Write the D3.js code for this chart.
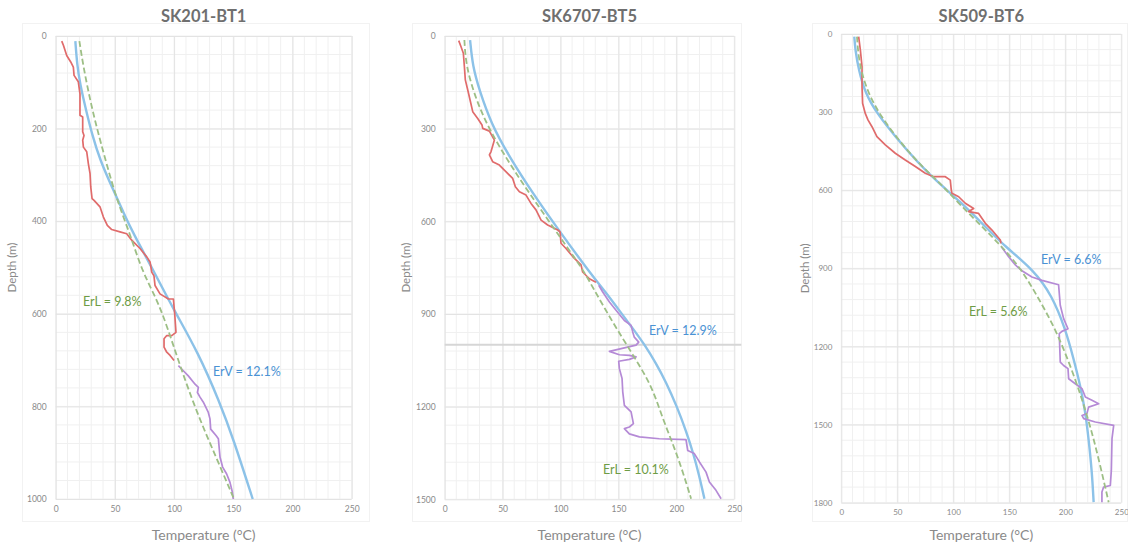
<!DOCTYPE html>
<html>
<head>
<meta charset="utf-8">
<script src="https://cdn.jsdelivr.net/npm/d3@7"></script>
<style>
  body { margin: 0; background: #fff; }
  svg { display: block; font-family: Lato, "Open Sans", sans-serif; }
</style>
</head>
<body>
<div id="chart"></div>
<script>
// temperature (°C), depth (m) pairs
const bt1Measured = [[5.1,11],[6.5,20],[9.3,42],[12.7,56],[14.9,67],[15.5,85],[19.1,99],[20.5,125],[20.5,171],[22.8,175],[22.8,207],[23.9,215],[22.8,225],[23.4,240],[26.2,250],[27.6,276],[29,297],[29.6,326],[30.7,351],[32.4,355],[37.4,369],[40.3,391],[43.6,409],[47.3,418],[54.3,423],[60,427],[64.2,441],[71.2,459],[76.9,477],[79.7,488],[81.1,510],[83,518],[83.9,539],[88.1,557],[95.2,568],[99.4,568],[100.5,600],[101.6,640],[98,647],[93.8,647],[91.5,654],[91.5,672],[93.8,683],[96.6,690],[100,701]];
const bt1Deep = [[103.6,712],[107.8,723],[112,734],[117.7,752],[120.5,759],[119.7,770],[121.9,780],[124.7,791],[128.9,813],[130.3,827],[130.9,849],[135.4,863],[137.4,870],[138.8,910],[141,931],[144.4,946],[147.2,964],[149.2,985],[150,1000]];
const bt1ModelV = [[16.6,11],[18,60],[20.5,103],[25.6,160],[31,215],[37.4,268],[48.7,333],[57,380],[65.6,427],[81,499],[99.4,590],[120.2,683],[138.5,791],[150,870],[166.4,1000]];
const bt1ModelL = [[20,11],[23.4,67],[30,150],[37.4,225],[51.5,355],[62.8,427],[72.6,506],[85.3,568],[93.8,625],[105,712],[119.1,813],[136,913],[150.6,1000]];

const bt5Measured = [[12.1,15],[14.1,35],[16.1,56],[17,99],[17.8,142],[19.9,175],[21.9,207],[24.2,245],[28.5,267],[32.2,288],[32.8,299],[38.6,308],[42.9,337],[40,374],[38.6,385],[41.4,407],[47.2,418],[51.5,434],[58.7,461],[61,488],[64.5,504],[70.2,515],[74.5,542],[78.8,563],[83.2,596],[88.9,612],[97.6,628],[99.6,634],[100.4,671],[104.7,688],[110.5,714],[117.7,741],[119.1,764],[124.9,786],[130.6,797]];
const bt5Deep = [[133,807],[136.4,829],[142.2,861],[147.9,888],[155.1,921],[160.9,937],[162.3,958],[163.7,975],[167.5,991],[165.2,1001],[142.2,1021],[150.8,1032],[159.4,1034],[165.2,1039],[159.4,1047],[150.2,1053],[150.8,1077],[153.1,1109],[153.7,1152],[155.1,1196],[160.9,1217],[162.9,1255],[159.4,1266],[155.1,1271],[159.4,1288],[168.1,1298],[185.3,1304],[208.3,1307],[209.8,1342],[215.5,1352],[219.9,1379],[225.6,1412],[228.5,1444],[234.2,1471],[238.6,1498]];
const bt5ModelV = [[21.9,13],[24.2,99],[29.9,175],[40,283],[55.8,391],[76,509],[100.4,639],[124.9,764],[139,830],[151,890],[163,950],[172.5,999],[182.5,1060],[191,1120],[200.5,1200],[208.5,1280],[214.5,1350],[219.5,1420],[224.2,1498]];
const bt5ModelL = [[17,13],[18.4,99],[27.1,207],[38.6,304],[55.8,412],[73.1,509],[93.2,617],[113.4,725],[120.6,764],[136.4,872],[153.7,980],[168.1,1066],[179.6,1142],[188.2,1239],[197.5,1325],[205.5,1410],[212.7,1498]];

const bt6Measured = [[15.5,10],[17,61],[18.5,125],[18.5,202],[19,266],[21.4,305],[23.8,330],[27.4,356],[31.8,394],[39.3,426],[48.2,458],[57.1,484],[66.1,509],[75,535],[82.4,548],[92.9,548],[97.3,561],[98.2,599],[98.8,612],[104.8,625],[110.7,650],[118.2,670],[113.7,682],[122.6,689],[128.6,727],[134.5,753],[142,791],[142.5,804]];
const bt6Deep = [[142.9,817],[149.4,855],[155.4,887],[161.3,909],[170.2,933],[179.2,946],[194,963],[195.5,1042],[198.5,1093],[202.4,1132],[197,1142],[194.6,1151],[195.5,1260],[198.5,1273],[202.4,1285],[203,1324],[208.9,1343],[214.9,1362],[217.9,1394],[223.8,1407],[229.8,1420],[220.8,1433],[219.3,1458],[214.9,1465],[216.4,1477],[226.8,1490],[243.2,1503],[241.7,1554],[241.1,1676],[240.2,1734],[234.2,1740],[232.7,1759],[232.7,1798]];
const bt6ModelV = [[11.6,10],[12.5,61],[15.5,138],[21.4,228],[31.8,305],[48.2,394],[69,497],[86.9,573],[104.8,638],[128.6,740],[146.4,817],[171.7,906],[188.1,1004],[200,1132],[207.4,1247],[213.4,1350],[217.9,1452],[220.8,1554],[223.8,1682],[225.3,1798]];
const bt6ModelL = [[14,10],[15.5,100],[21.4,202],[33.3,305],[51.2,407],[69,497],[86.9,567],[104.8,650],[125.6,740],[143.5,817],[161.3,906],[176.2,1016],[191.1,1132],[204.5,1273],[214.9,1401],[223.8,1529],[231.2,1657],[238.7,1798]];

const titles = ["SK201-BT1", "SK6707-BT5", "SK509-BT6"];
const depthMax = [1000, 1500, 1800];
const depthStep = [200, 300, 300];
const tempTicks = [0, 50, 100, 150, 200, 250];
const ervLabels = ["ErV = 12.1%", "ErV = 12.9%", "ErV = 6.6%"];
const erlLabels = ["ErL = 9.8%", "ErL = 10.1%", "ErL = 5.6%"];

const COLORS = { measured: "#e06b6b", deep: "#b58ad6", modelV: "#8cc2e8", modelL: "#9dbf85",
                 erv: "#4a92d4", erl: "#6e9c45", grid: "#e3e3e3", minor: "#f0f0f0", text: "#8a8a8a" };

// panel layout (pixels)
const panels = [
  { series: [bt1ModelV, bt1ModelL, bt1Measured, bt1Deep], box: [22, 23, 370, 522], plot: [55.7, 36, 351.7, 499], axisX: 12, ervPos: [213, 372], erlPos: [83, 302], tickSize: 8.5 },
  { series: [bt5ModelV, bt5ModelL, bt5Measured, bt5Deep], box: [412, 23, 742, 522], plot: [444.7, 36, 734.3, 499.3], axisX: 406, ervPos: [649, 331], erlPos: [603, 470], marker: 1000, tickSize: 8.5 },
  { series: [bt6ModelV, bt6ModelL, bt6Measured, bt6Deep], box: [812, 23, 1128, 522], plot: [841.3, 34, 1121.3, 502.7], axisX: 805, ervPos: [1041, 260], erlPos: [969, 312], tickSize: 8 }
];

const svg = d3.select("#chart").append("svg").attr("width", 1128).attr("height", 545);

panels.forEach((p, i) => {
  const [l, t, r, b] = p.plot;
  const x = d3.scaleLinear().domain([0, 250]).range([l, r]);
  const y = d3.scaleLinear().domain([0, depthMax[i]]).range([t, b]);
  const depthTicks = d3.range(0, depthMax[i] + 1, depthStep[i]);
  const g = svg.append("g");

  // chart area border
  g.append("rect")
    .attr("x", p.box[0] + 0.5).attr("y", p.box[1] + 0.5)
    .attr("width", p.box[2] - p.box[0] - 1).attr("height", p.box[3] - p.box[1] - 1)
    .attr("fill", "none").attr("stroke", "#f2f2f2");

  // minor grid
  g.selectAll(".mx").data(d3.range(0, 251, 10)).enter().append("line")
    .attr("x1", d => x(d)).attr("x2", d => x(d)).attr("y1", t).attr("y2", b)
    .attr("stroke", COLORS.minor);
  g.selectAll(".my").data(d3.range(0, depthMax[i] + 1, depthStep[i] / 5)).enter().append("line")
    .attr("y1", d => y(d)).attr("y2", d => y(d)).attr("x1", l).attr("x2", r)
    .attr("stroke", COLORS.minor);

  // major grid
  g.append("g").attr("transform", `translate(0,${t})`)
    .call(d3.axisBottom(x).tickValues(tempTicks).tickSize(b - t).tickFormat(""))
    .call(a => a.select(".domain").remove())
    .selectAll("line").attr("stroke", COLORS.grid);
  g.append("g").attr("transform", `translate(${l},0)`)
    .call(d3.axisRight(y).tickValues(depthTicks).tickSize(r - l).tickFormat(""))
    .call(a => a.select(".domain").remove())
    .selectAll("line").attr("stroke", COLORS.grid);

  // tick labels
  const xa = g.append("g").attr("transform", `translate(0,${b + 4})`)
    .call(d3.axisBottom(x).tickValues(tempTicks).tickSize(0).tickFormat(d3.format("d")));
  const ya = g.append("g").attr("transform", `translate(${l - 6},0)`)
    .call(d3.axisLeft(y).tickValues(depthTicks).tickSize(0).tickFormat(d3.format("d")));
  [xa, ya].forEach(a => {
    a.select(".domain").remove();
    a.selectAll("text").attr("fill", COLORS.text).attr("font-size", p.tickSize)
      .attr("font-family", "Lato, 'Open Sans', sans-serif");
  });

  if (p.marker) {
    g.append("line").attr("x1", l).attr("x2", r + 7).attr("y1", y(p.marker)).attr("y2", y(p.marker))
      .attr("stroke", "#d6d6d6").attr("stroke-width", 2);
  }

  const line = d3.line().x(d => x(d[0])).y(d => y(d[1]));
  const smooth = d3.line().x(d => x(d[0])).y(d => y(d[1])).curve(d3.curveBasis);
  const [mv, ml, me, de] = p.series;

  g.append("path").datum(mv).attr("d", smooth).attr("fill", "none")
    .attr("stroke", COLORS.modelV).attr("stroke-width", 2.4);
  g.append("path").datum(me).attr("d", line).attr("fill", "none")
    .attr("stroke", COLORS.measured).attr("stroke-width", 1.7).attr("stroke-linejoin", "round");
  g.append("path").datum(de).attr("d", line).attr("fill", "none")
    .attr("stroke", COLORS.deep).attr("stroke-width", 1.7).attr("stroke-linejoin", "round");
  g.append("path").datum(ml).attr("d", smooth).attr("fill", "none")
    .attr("stroke", COLORS.modelL).attr("stroke-width", 1.8).attr("stroke-dasharray", "6,3");

  // labels
  g.append("text").attr("x", p.ervPos[0]).attr("y", p.ervPos[1]).attr("dy", "0.35em")
    .attr("fill", COLORS.erv).attr("font-size", 12.5).text(ervLabels[i]);
  g.append("text").attr("x", p.erlPos[0]).attr("y", p.erlPos[1]).attr("dy", "0.35em")
    .attr("fill", COLORS.erl).attr("font-size", 12.5).text(erlLabels[i]);

  g.append("text").attr("x", (l + r) / 2).attr("y", 16).attr("dy", "0.35em")
    .attr("text-anchor", "middle").attr("fill", "#6f6f6f").attr("font-size", 16.5)
    .attr("font-weight", "bold").text(titles[i]);
  g.append("text").attr("x", (l + r) / 2).attr("y", 535).attr("dy", "0.35em")
    .attr("text-anchor", "middle").attr("fill", COLORS.text).attr("font-size", 14)
    .text("Temperature (°C)");
  g.append("text").attr("transform", `translate(${p.axisX},${(t + b) / 2}) rotate(-90)`)
    .attr("dy", "0.35em").attr("text-anchor", "middle").attr("fill", COLORS.text)
    .attr("font-size", 11.5).text("Depth (m)");
});
</script>
</body>
</html>
